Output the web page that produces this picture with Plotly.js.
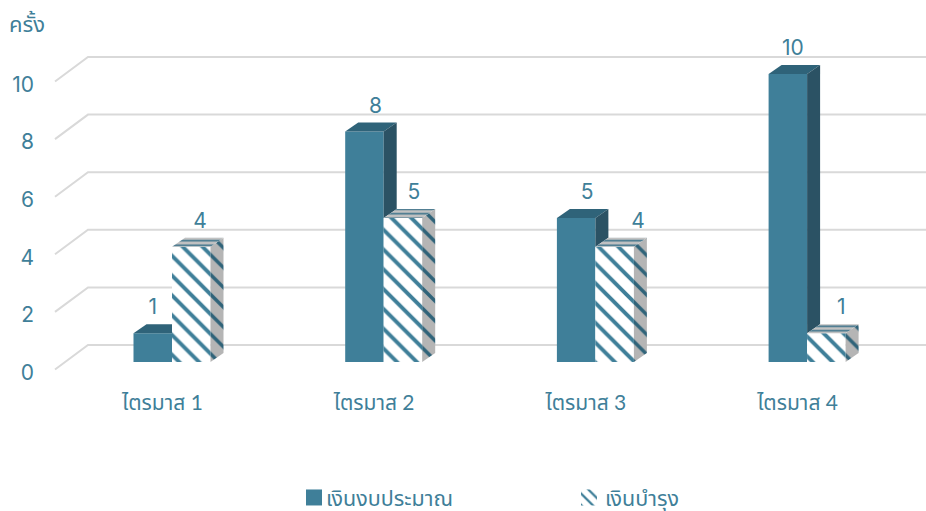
<!DOCTYPE html>
<html><head><meta charset="utf-8">
<script src="https://cdn.plot.ly/plotly-3.0.1.min.js"></script>
<style>html,body{margin:0;padding:0;background:#fff;overflow:hidden}</style>
</head><body><div id="chart" style="width:926px;height:511px"></div>
<script>
const categories = ['ไตรมาส 1','ไตรมาส 2','ไตรมาส 3','ไตรมาส 4'];
const budget = [1,8,5,10];
const maintenance = [4,5,4,1];
const yTicks = [0,2,4,6,8,10];
const labelShiftA = [0,0.052,0.052,0.024];
const labelShiftB = [0.042,0.052,0.11,0.07];

const TEAL='#3f7f99', TEXT='#3f7f99', GRID='#d9d9d9', FONT='Inter, "Noto Sans", sans-serif', THAI='Lato, "Noto Sans", "Noto Sans Thai", sans-serif';
const pxX=211.7, pxY=28.8, x0px=172, y0px=362, L=35, B=388, W=926, H=511;
const barW=38.5/pxX, dx=13/pxX, dy=9/pxY;
const xr=[(L-x0px)/pxX,(W-x0px)/pxX], yr=[(y0px-B)/pxY,y0px/pxY];
const pxXat=p=>(p-x0px)/pxX;

const traces=[
 {type:'bar',name:'เงินงบประมาณ',x:[0,1,2,3],y:budget,marker:{color:TEAL,line:{width:0}},hoverinfo:'skip'},
 {type:'bar',name:'เงินบำรุง',x:[0,1,2,3],y:maintenance,
  marker:{color:'#fff',line:{width:0},pattern:{shape:'\\',fgcolor:TEAL,bgcolor:'#fff',size:14,solidity:0.28}},hoverinfo:'skip'}
];
function poly(xs,ys,extra){return Object.assign({type:'scatter',mode:'lines',x:xs.concat(xs[0]),y:ys.concat(ys[0]),fill:'toself',line:{width:0},showlegend:false,hoverinfo:'skip'},extra);}
const solidTop={fillcolor:'#2f6379'}, solidSide={fillcolor:'#2b5264'};
const patTop={fillcolor:'#b5b5b5',fillpattern:{shape:'-',fgcolor:'#3a7189',bgcolor:'#c2c2c2',size:4.5,solidity:0.35}};
const patSide={fillcolor:'#b5b5b5',fillpattern:{shape:'\\',fgcolor:'#2f6379',bgcolor:'#b5b5b5',size:14,solidity:0.25}};
budget.forEach((v,i)=>{
  const a=i-barW, b=i, w=maintenance[i];
  if(w>=v){
    traces.push(poly([a,a+dx,b,b],[v,v+dy,v+dy,v],solidTop));
  } else {
    traces.push(poly([a,a+dx,b+dx,b],[v,v+dy,v+dy,v],solidTop));
    traces.push(poly([b,b+dx,b+dx,b],[v,v+dy,w+dy,w],solidSide));
  }
});
maintenance.forEach((v,i)=>{
  const a=i, b=i+barW;
  traces.push(poly([b,b+dx,b+dx,b],[v,v+dy,dy,0],patSide));
  traces.push(poly([a,a+dx,b+dx,b],[v,v+dy,v+dy,v],patTop));
});
const lab=24/pxY;
traces.push({type:'scatter',mode:'text',x:budget.map((v,i)=>i-barW/2+labelShiftA[i]),y:budget.map(v=>v+lab),text:budget.map(String),textposition:'middle center',textfont:{color:TEXT,size:21,family:FONT},showlegend:false,hoverinfo:'skip'});
traces.push({type:'scatter',mode:'text',x:maintenance.map((v,i)=>i+barW/2+labelShiftB[i]),y:maintenance.map(v=>v+lab),text:maintenance.map(String),textposition:'middle center',textfont:{color:TEXT,size:21,family:FONT},showlegend:false,hoverinfo:'skip'});

const frontX=pxXat(55), wallX=pxXat(88), endX=pxXat(926);
const frontOff=-7.5/pxY, wallOff=17/pxY, tickOff=-10.5/pxY;
const shapes=yTicks.map(v=>({type:'path',layer:'below',xref:'x',yref:'y',
  path:`M${frontX},${v+frontOff} L${wallX},${v+wallOff} L${endX},${v+wallOff}`,
  line:{color:GRID,width:2}}));

const layout={width:W,height:H,margin:{l:L,r:0,t:0,b:H-B,pad:0,autoexpand:false},paper_bgcolor:'#fff',plot_bgcolor:'rgba(0,0,0,0)',
 font:{family:FONT,color:TEXT,size:20},barmode:'group',bargap:1-2*barW,bargroupgap:0,
 xaxis:{range:xr,tickmode:'array',tickvals:[0,1,2,3].map(i=>i-0.045),ticktext:categories,showgrid:false,zeroline:false,showline:false,ticks:'',tickfont:{size:21,color:TEXT,family:THAI}},
 yaxis:{range:yr,tickmode:'array',tickvals:yTicks.map(v=>v+tickOff),ticktext:yTicks.map(String),showgrid:false,zeroline:false,showline:false,ticks:'',tickfont:{size:21,color:TEXT,family:FONT}},
 shapes,
 annotations:[{text:'ครั้ง',xref:'paper',yref:'paper',x:(27-L)/(W-L),y:(B-23)/B,xanchor:'center',yanchor:'middle',showarrow:false,font:{size:22,color:TEXT,family:THAI}}],
 legend:{orientation:'h',x:(286-L)/(W-L),xanchor:'left',y:(B-477)/B,yanchor:'top',entrywidth:234,entrywidthmode:'pixels',font:{size:21.5,color:TEXT,family:THAI},bgcolor:'rgba(0,0,0,0)'},
 showlegend:true};
Plotly.newPlot('chart',traces,layout,{displayModeBar:false,staticPlot:true}).then(gd=>{
  const sh=[8,4];
  gd.querySelectorAll('.legend .legendbar path, .legend .legendpoints path').forEach((p,i)=>{
    const s=sh[i]||0;p.setAttribute('d',`M${8+s},8H${-8+s}V-8H${8+s}Z`);});
});
</script></body></html>
